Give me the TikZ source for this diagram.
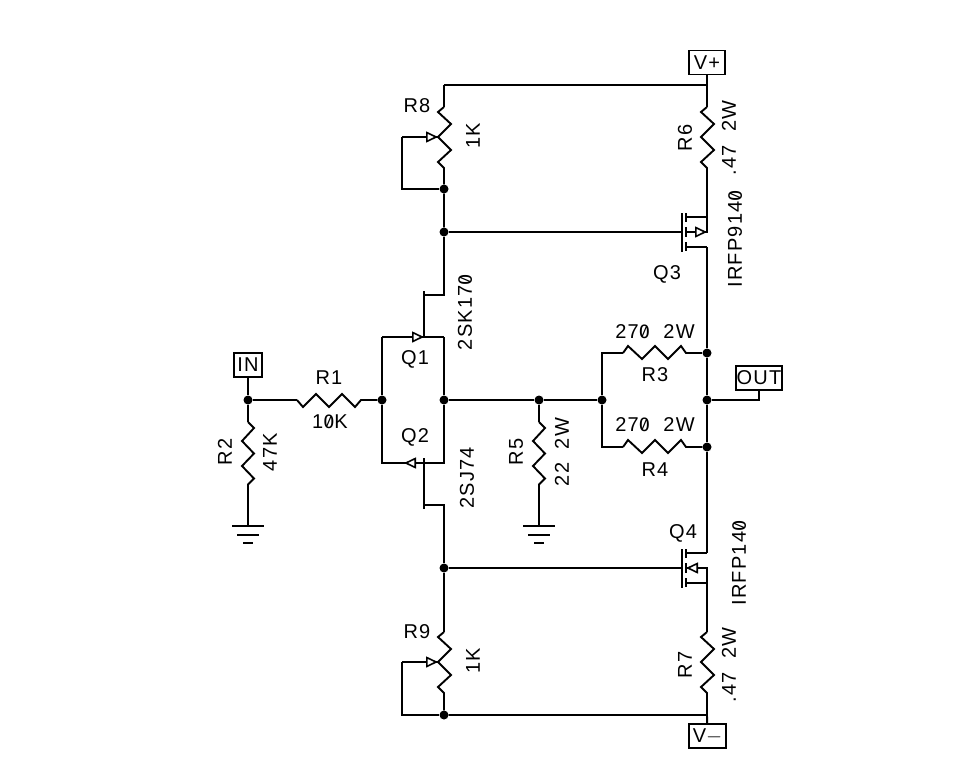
\documentclass[tikz,border=0pt]{standalone}
\usepackage{fontspec}
\setmainfont{Liberation Sans}[LetterSpace=6,WordSpace=2]
\newfontfamily\zerofont{Fira Sans}[Numbers=SlashedZero,LetterSpace=4]
\newcommand{\zr}{{\zerofont 0}}
\usetikzlibrary{positioning,arrows.meta}

\tikzset{
	wire/.style={line width=1.9pt,line join=miter},
	dot/.style={circle,fill=black,inner sep=0pt,minimum size=9pt},
	port/.style={draw,line width=1.9pt,inner sep=0pt,minimum height=24pt,font=\fontsize{20}{20}\selectfont},
	lab/.style={inner sep=0pt,font=\fontsize{20}{20}\selectfont},
	rlab/.style={lab,rotate=90},
	tip/.style={line width=1.6pt,-{Triangle[open,fill=white,length=12pt,width=11pt]}},
	zigdown/.style={to path={-- ++(6,7) -- ++(13,-13) -- ++(13,13) -- ++(13,-13) -- ++(13,13) -- ++(6,-7) -- (\tikztotarget)}},
	zigup/.style={to path={-- ++(5,-7) -- ++(14,13) -- ++(13,-13) -- ++(13,13) -- ++(13,-13) -- ++(5,7) -- (\tikztotarget)}},
	zigvert/.style={to path={-- ++(6,6) -- ++(-12,13) -- ++(12,12.5) -- ++(-12,12.5) -- ++(12,12.5) -- ++(-6,6) -- (\tikztotarget)}},
	zigvers/.style={to path={-- ++(-6,5) -- ++(13,12) -- ++(-13,13) -- ++(13,13) -- ++(-13,12) -- ++(6,6) -- (\tikztotarget)}},
	mosp/.pic={
		\draw[wire] (0,-19) -- (0,20);
		\draw[wire] (4,-19) -- (4,-10) (4,-5) -- (4,5) (4,10) -- (4,19);
		\draw[wire] (4,-15) -- (25,-15) -- (25,0) -- (4,0) (4,15) -- (25,15);
		\draw[tip] (13,0) -- (25,0);
		\coordinate (-g) at (0,0); \coordinate (-d) at (25,-15); \coordinate (-s) at (25,15);
	},
	mosn/.pic={
		\draw[wire] (0,-19) -- (0,20);
		\draw[wire] (4,-19) -- (4,-10) (4,-5) -- (4,5) (4,10) -- (4,19);
		\draw[wire] (4,-15) -- (25,-15) (4,0) -- (25,0) -- (25,15) -- (4,15);
		\draw[tip] (17,0) -- (4,0);
		\coordinate (-g) at (0,0); \coordinate (-d) at (25,-15); \coordinate (-s) at (25,15);
	},
	gnd/.pic={
		\draw[wire] (-16,0) -- (16,0) (-11,9) -- (11,9) (-5,17) -- (5,17);
		\coordinate (-t) at (0,0);
	}
}

\begin{document}
\begin{tikzpicture}[x=1pt,y=-1pt]
	\useasboundingbox (0,0) rectangle (966,782);

	% ports
	\node[port,minimum width=36pt]	(vp)	at (707,62.5)	{V+};
	\node[port,minimum width=37pt]	(vm)	at (707.5,736)	{V$-$};
	\node[port,minimum width=28pt]	(in)	at (248,365)	{IN};
	\node[port,minimum width=46pt]	(out)	at (759,378)	{OUT};

	% junctions
	\node[dot]	(j1)	at (248,400)	{};
	\node[dot]	(j2)	at (382,400)	{};
	\node[dot]	(j3)	at (444,400)	{};
	\node[dot]	(j4)	at (539,400)	{};
	\node[dot]	(j5)	at (602,400)	{};
	\node[dot]	(j6)	at (707,400)	{};
	\node[dot]	(j7)	at (707,353)	{};
	\node[dot]	(j8)	at (707,447)	{};
	\node[dot]	(j9)	at (444,189)	{};
	\node[dot]	(j10)	at (444,232)	{};
	\node[dot]	(j11)	at (444,568)	{};
	\node[dot]	(j12)	at (444,715)	{};

	% corners and resistor ends
	\coordinate (top)	at (444,85);
	\coordinate (topr)	at (707,85);
	\coordinate (botr)	at (707,715);
	\coordinate (r1a)	at (297,400);
	\coordinate (r1b)	at (361,400);
	\coordinate (r2a)	at (248,422);
	\coordinate (r2b)	at (248,485);
	\coordinate (r5a)	at (539,422);
	\coordinate (r5b)	at (539,485);
	\coordinate (r3a)	at (623,353);
	\coordinate (r3b)	at (687,353);
	\coordinate (r3l)	at (602,353);
	\coordinate (r4a)	at (623,447);
	\coordinate (r4b)	at (687,447);
	\coordinate (r4l)	at (602,447);
	\coordinate (r6a)	at (707,107);
	\coordinate (r6b)	at (707,168);
	\coordinate (r7a)	at (707,632);
	\coordinate (r7b)	at (707,693);
	\coordinate (r8a)	at (444,107);
	\coordinate (r8b)	at (444,168);
	\coordinate (r9a)	at (444,632);
	\coordinate (r9b)	at (444,693);
	\coordinate (w8)	at (438,137);
	\coordinate (w8a)	at (426,137);
	\coordinate (w8l)	at (402,137);
	\coordinate (w8c)	at (402,189);
	\coordinate (w9)	at (438,662);
	\coordinate (w9a)	at (426,662);
	\coordinate (w9l)	at (402,662);
	\coordinate (w9c)	at (402,715);
	\coordinate (outc)	at (759,400);

	% JFETs
	\coordinate (q1t)	at (424,291);
	\coordinate (q1d)	at (424,295);
	\coordinate (q1e)	at (444,295);
	\coordinate (q1g)	at (424,337);
	\coordinate (q1l)	at (382,337);
	\coordinate (q1r)	at (444,337);
	\coordinate (q1a)	at (411,337);
	\coordinate (q2b)	at (424,509);
	\coordinate (q2d)	at (424,505);
	\coordinate (q2e)	at (444,505);
	\coordinate (q2g)	at (424,458);
	\coordinate (q2l)	at (382,463);
	\coordinate (q2r)	at (444,463);
	\coordinate (q2a)	at (416,463);
	\coordinate (q2c)	at (404,463);

	% MOSFETs and grounds
	\pic (q3) at (682,232) {mosp};
	\pic (q4) at (682,568) {mosn};
	\pic (g2) at (248,526) {gnd};
	\pic (g5) at (539,526) {gnd};

	% rails and branches
	\draw[wire] (vp) -- (topr);
	\draw[wire] (top) -- (topr);
	\draw[wire] (top) -- (r8a);
	\draw[wire] (r8a) to[zigvers] (r8b) -- (j9) -- (j10);
	\draw[wire] (w8l) -- (w8);
	\draw[wire] (w8l) -- (w8c) -- (j9);
	\draw[tip] (w8a) -- (w8);
	\draw[wire] (topr) -- (r6a);
	\draw[wire] (r6a) to[zigvers] (r6b) -- (q3-d);
	\draw[wire] (j10) -- (q3-g);
	\draw[wire] (j10) -- (q1e) -- (q1d);
	\draw[wire] (q1t) -- (q1g);
	\draw[wire] (q1l) -- (q1r);
	\draw[tip] (q1a) -- (q1g);
	\draw[wire] (q1l) -- (j2) -- (q2l) -- (q2r) -- (j3) -- (q1r);
	\draw[wire] (q2g) -- (q2b);
	\draw[wire] (q2d) -- (q2e) -- (j11);
	\draw[tip] (q2a) -- (q2c);
	\draw[wire] (j11) -- (q4-g);
	\draw[wire] (j11) -- (r9a);
	\draw[wire] (r9a) to[zigvers] (r9b) -- (j12);
	\draw[wire] (w9l) -- (w9);
	\draw[wire] (w9l) -- (w9c) -- (j12);
	\draw[tip] (w9a) -- (w9);
	\draw[wire] (j12) -- (botr) -- (vm);
	\draw[wire] (q4-s) -- (r7a);
	\draw[wire] (r7a) to[zigvers] (r7b) -- (botr);
	\draw[wire] (q3-s) -- (j7) -- (j6) -- (j8) -- (q4-d);
	\draw[wire] (in) -- (j1) -- (r2a);
	\draw[wire] (j1) -- (r1a);
	\draw[wire] (r1a) to[zigdown] (r1b) -- (j2);
	\draw[wire] (r2a) to[zigvert] (r2b) -- (g2-t);
	\draw[wire] (j3) -- (j4) -- (j5);
	\draw[wire] (j4) -- (r5a);
	\draw[wire] (r5a) to[zigvert] (r5b) -- (g5-t);
	\draw[wire] (j7) -- (r3b);
	\draw[wire] (r3a) to[zigup] (r3b);
	\draw[wire] (r3a) -- (r3l) -- (j5) -- (r4l) -- (r4a);
	\draw[wire] (r4a) to[zigup] (r4b) -- (j8);
	\draw[wire] (j6) -- (outc) -- (out.south -| outc);

	% labels
	\node[lab]	(lr1)	at (329,378)	{R1};
	\node[lab]	(vr1)	at (330,422)	{1\zr K};
	\node[rlab]	(lr2)	at (225,452)	{R2};
	\node[rlab]	(vr2)	at (270,452)	{47K};
	\node[lab]	(lr3)	at (655,375)	{R3};
	\node[lab]	(vr3)	at (655,332)	{27\zr{} 2W};
	\node[lab]	(lr4)	at (655,470)	{R4};
	\node[lab]	(vr4)	at (655,425)	{27\zr{} 2W};
	\node[rlab]	(lr5)	at (516,452)	{R5};
	\node[rlab]	(vr5)	at (562,452)	{22 2W};
	\node[rlab]	(lr6)	at (685,138)	{R6};
	\node[rlab]	(vr6)	at (729,138)	{.47 2W};
	\node[rlab]	(lr7)	at (685,665)	{R7};
	\node[rlab]	(vr7)	at (729,665)	{.47 2W};
	\node[lab]	(lr8)	at (417,106)	{R8};
	\node[rlab]	(vr8)	at (473,136)	{1K};
	\node[lab]	(lr9)	at (417,632)	{R9};
	\node[rlab]	(vr9)	at (473,661)	{1K};
	\node[lab]	(lq1)	at (415,359)	{Q1};
	\node[rlab]	(vq1)	at (465,312)	{2SK17\zr};
	\node[lab]	(lq2)	at (415,437)	{Q2};
	\node[rlab]	(vq2)	at (467,478)	{2SJ74};
	\node[lab]	(lq3)	at (667,274)	{Q3};
	\node[rlab]	(vq3)	at (735,239)	{IRFP914\zr};
	\node[lab]	(lq4)	at (683,533)	{Q4};
	\node[rlab]	(vq4)	at (739,563)	{IRFP14\zr};
\end{tikzpicture}
\end{document}
